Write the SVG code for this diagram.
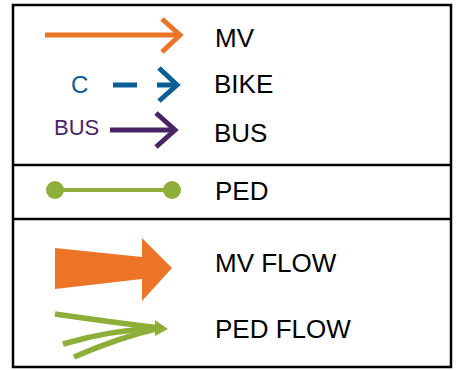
<svg xmlns="http://www.w3.org/2000/svg" width="458" height="370" viewBox="0 0 458 370">
<style>
.lbl{font-family:"Liberation Sans",Arial,sans-serif;font-size:26px;fill:#000}
.box{fill:none;stroke:#000;stroke-width:2.5}
.mv{stroke:#EC7426;stroke-width:5;fill:none}
.bike{stroke:#0B5E96;stroke-width:5;fill:none}
.bus{stroke:#4B2466;stroke-width:5;fill:none}
.ped{stroke:#8DAF3A;stroke-width:4;fill:none}
.pf{stroke:#8DAF3A;stroke-width:5.5;fill:none}
</style>
<rect width="458" height="370" fill="#fff"/>
<g id="frame">
<rect class="box" x="13" y="5" width="438" height="362"/>
<line class="box" x1="13" y1="165" x2="451" y2="165"/>
<line class="box" x1="13" y1="219" x2="451" y2="219"/>
</g>
<g id="connectors">
<g id="mv-line">
<line class="mv" x1="45" y1="35" x2="179" y2="35"/>
<polyline class="mv" points="162,19 180,35 162,52"/>
</g>
<g id="bike-line">
<line class="bike" x1="113" y1="85" x2="137" y2="85"/>
<line class="bike" x1="157" y1="85" x2="176" y2="85"/>
<polyline class="bike" points="159,68 177,85 159,101"/>
</g>
<g id="bus-line">
<line class="bus" x1="110" y1="130" x2="174" y2="130"/>
<polyline class="bus" points="156,113 175,130 156,147"/>
</g>
<g id="ped-line">
<line class="ped" x1="55" y1="190" x2="172" y2="190"/>
<circle cx="55" cy="190" r="9" fill="#8DAF3A"/>
<circle cx="172" cy="190" r="9" fill="#8DAF3A"/>
</g>
<g id="mv-flow">
<polygon fill="#EC7426" points="55,248 142,257 142,238 172,268 142,301 142,279 55,289"/>
</g>
<g id="ped-flow">
<path class="pf" d="M55,314 Q110,322 160,328"/>
<path class="pf" d="M63,344 Q110,330 160,328"/>
<path class="pf" d="M74,357 Q120,337 160,328"/>
<polygon fill="#8DAF3A" points="155,320 168,329 155,336"/>
</g>
</g>
<g id="labels">
<text x="71" y="93" style="font-family:'Liberation Sans',Arial,sans-serif;font-size:24px;fill:#0B5E96">C</text>
<text x="54" y="135" style="font-family:'Liberation Sans',Arial,sans-serif;font-size:22px;fill:#4B2466">BUS</text>
<text class="lbl" x="215" y="47">MV</text>
<text class="lbl" x="214" y="93">BIKE</text>
<text class="lbl" x="214" y="142">BUS</text>
<text class="lbl" x="215" y="200">PED</text>
<text class="lbl" x="215" y="272">MV FLOW</text>
<text class="lbl" x="215" y="338">PED FLOW</text>
</g>
</svg>
